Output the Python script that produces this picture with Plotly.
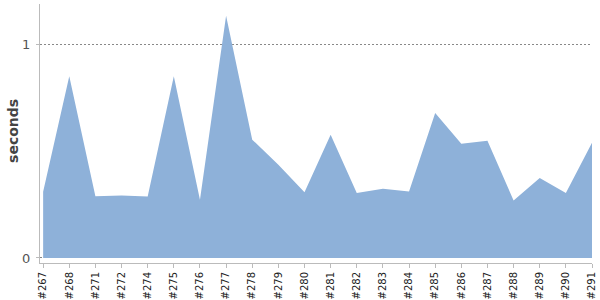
import plotly.graph_objects as go

builds = ["#267", "#268", "#271", "#272", "#274", "#275", "#276", "#277", "#278", "#279", "#280",
          "#281", "#282", "#283", "#284", "#285", "#286", "#287", "#288", "#289", "#290", "#291"]
seconds = [0.31, 0.849, 0.288, 0.292, 0.287, 0.849, 0.272, 1.132, 0.553, 0.436, 0.307,
           0.576, 0.304, 0.324, 0.311, 0.678, 0.534, 0.548, 0.269, 0.374, 0.304, 0.539]

fig = go.Figure()
fig.add_trace(go.Scatter(
    x=builds, y=seconds, mode="lines", fill="tozeroy",
    line=dict(width=0, color="#8eb1d9"), fillcolor="#8eb1d9",
    hoverinfo="skip", showlegend=False,
))

fig.update_layout(
    width=600, height=300,
    margin=dict(l=40, r=8, t=4, b=37),
    paper_bgcolor="white", plot_bgcolor="white",
    font=dict(family="DejaVu Sans", color="#444"),
    xaxis=dict(
        type="category", range=[-0.12, 21], automargin=False,
        showline=True, linecolor="#bbb", linewidth=1,
        ticks="outside", ticklen=4, tickcolor="#bbb",
        tickangle=-90, tickfont=dict(size=10, color="#222"),
        showgrid=False, zeroline=False,
    ),
    yaxis=dict(
        range=[-0.0234, 1.187], automargin=False,
        tickvals=[0, 1], ticktext=["0", "1"],
        tickfont=dict(size=13, color="#555"),
        ticks="outside", ticklen=3, tickcolor="#bbb",
        ticklabelstandoff=3,
        showline=True, linecolor="#bbb", linewidth=1,
        showgrid=True, gridcolor="#888", griddash="2px,2px", gridwidth=1,
        zeroline=False,
    ),
    annotations=[dict(
        text="<b>seconds</b>", textangle=-90, xref="paper", yref="paper",
        x=(13 - 40) / 552, y=0.51, xanchor="center", yanchor="middle",
        showarrow=False, font=dict(family="DejaVu Sans", size=14, color="#444"),
    )],
)

fig.write_html("out.html")
